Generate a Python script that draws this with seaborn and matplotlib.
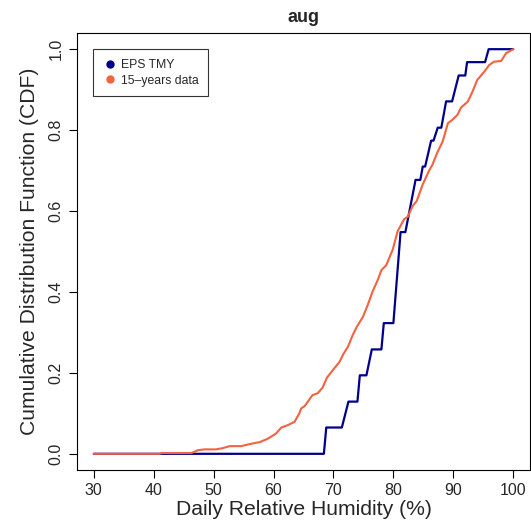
import matplotlib
matplotlib.use('Agg')
import matplotlib.pyplot as plt
from matplotlib.lines import Line2D
import pandas as pd
import seaborn as sns

# EPS TMY curve (vertices of the step-like CDF)
tmy_rh = [30.0, 68.4, 68.8, 71.4, 72.5, 74.0, 74.4, 75.5, 76.4, 78.0, 78.4, 80.0,
          81.2, 82.0, 83.7, 84.5, 84.9, 85.3, 86.3, 86.7, 87.4, 88.0, 88.8, 89.8,
          90.9, 92.0, 92.3, 95.3, 95.9, 100.0]
tmy_cdf = [0.0, 0.0, 0.065, 0.065, 0.129, 0.129, 0.194, 0.194, 0.258, 0.258, 0.323, 0.323,
           0.548, 0.548, 0.677, 0.677, 0.710, 0.710, 0.774, 0.774, 0.806, 0.806, 0.871, 0.871,
           0.935, 0.935, 0.968, 0.968, 1.0, 1.0]

# 15-years data curve
hist_rh = [30.0, 41.0, 41.3, 46.3, 47.4, 48.5, 50.4, 51.5, 52.7, 54.6, 56.0, 57.7, 59.0,
           60.4, 61.3, 62.4, 63.5, 64.3, 64.6, 65.2, 66.5, 67.4, 68.2, 68.9, 69.9, 71.0,
           71.7, 72.4, 73.2, 73.9, 74.9, 75.7, 76.5, 77.4, 78.0, 78.8, 79.9, 80.7, 81.8,
           82.4, 83.2, 83.9, 84.9, 86.0, 86.5, 87.4, 88.2, 89.1, 89.9, 90.7, 91.3, 92.4,
           93.2, 94.0, 95.2, 96.0, 96.8, 98.0, 98.8, 100.0]
hist_cdf = [0.0, 0.0, 0.002, 0.002, 0.009, 0.011, 0.011, 0.014, 0.019, 0.019, 0.024, 0.029, 0.037,
            0.050, 0.065, 0.071, 0.079, 0.100, 0.112, 0.118, 0.145, 0.150, 0.164, 0.188, 0.207, 0.227,
            0.248, 0.264, 0.293, 0.314, 0.338, 0.367, 0.400, 0.430, 0.454, 0.466, 0.505, 0.550, 0.580,
            0.586, 0.612, 0.625, 0.666, 0.701, 0.714, 0.747, 0.771, 0.817, 0.826, 0.838, 0.856, 0.870,
            0.895, 0.924, 0.945, 0.961, 0.969, 0.971, 0.990, 1.0]

series_names = ['EPS TMY', '15\u2013years data']
colors = ['#00008B', '#F4623F']

x_ticks = [30, 40, 50, 60, 70, 80, 90, 100]
y_ticks = [0.0, 0.2, 0.4, 0.6, 0.8, 1.0]

sns.set_style('ticks')
plt.rcParams['font.family'] = ['Liberation Sans', 'DejaVu Sans']

tmy_df = pd.DataFrame({'rh': tmy_rh, 'cdf': tmy_cdf})
hist_df = pd.DataFrame({'rh': hist_rh, 'cdf': hist_cdf})

fig = plt.figure(figsize=(5.31, 5.27), dpi=100)
ax = fig.add_axes([77 / 531, 57 / 527, 453 / 531, 437 / 527])

sns.lineplot(data=tmy_df, x='rh', y='cdf', ax=ax, color=colors[0], lw=1.6,
             sort=False, estimator=None, legend=False)
sns.lineplot(data=hist_df, x='rh', y='cdf', ax=ax, color=colors[1], lw=1.5,
             sort=False, estimator=None, legend=False)

ax.set_xlim(27.2, 102.8)
ax.set_ylim(-0.04, 1.04)
ax.set_xticks(x_ticks)
ax.set_xticklabels([str(t) for t in x_ticks], fontsize=11.5)
ax.set_yticks(y_ticks)
ax.set_yticklabels(['%.1f' % t for t in y_ticks], fontsize=11.5, rotation=90, va='center')
ax.tick_params(direction='out', length=5.5, width=0.8, color='black', pad=4)

for s in ax.spines.values():
    s.set_visible(True)
    s.set_color('black')
    s.set_linewidth(0.8)

ax.set_xlabel('Daily Relative Humidity (%)', fontsize=15.2, labelpad=1)
ax.set_ylabel('Cumulative Distribution Function (CDF)', fontsize=15.2, labelpad=7)
ax.set_title('aug', fontsize=13, fontweight='bold', pad=8)

handles = [Line2D([], [], ls='none', marker='o', markersize=5, color=c) for c in colors]
leg = ax.legend(handles, series_names, loc='upper left', bbox_to_anchor=(0.035, 0.963),
                borderaxespad=0, fontsize=8.8, frameon=True, fancybox=False,
                handletextpad=0.3, handlelength=1.2, borderpad=0.8, labelspacing=0.3)
leg.get_frame().set_edgecolor('black')
leg.get_frame().set_linewidth(0.8)

fig.savefig('out.png', dpi=100)
